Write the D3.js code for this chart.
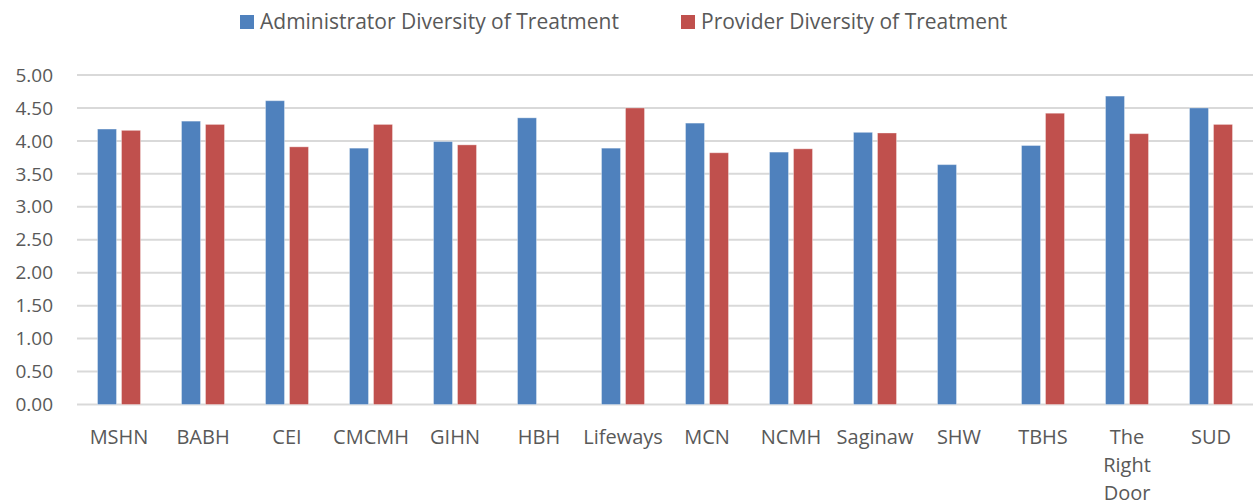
<!DOCTYPE html>
<html>
<head>
<meta charset="utf-8">
<script src="https://cdn.jsdelivr.net/npm/d3@7"></script>
<style>
	body { margin: 0; background: #fff; }
	text { font-family: "Open Sans", sans-serif; fill: #595959; }
</style>
</head>
<body>
<div id="chart"></div>
<script>

// Chart data
var categories = ["MSHN", "BABH", "CEI", "CMCMH", "GIHN", "HBH", "Lifeways", "MCN", "NCMH", "Saginaw", "SHW", "TBHS", "The Right Door", "SUD"];
var adminValues = [4.18, 4.30, 4.61, 3.89, 3.99, 4.35, 3.89, 4.27, 3.83, 4.13, 3.64, 3.93, 4.68, 4.50];
var providerValues = [4.16, 4.25, 3.91, 4.25, 3.94, null, 4.50, 3.82, 3.88, 4.12, null, 4.42, 4.11, 4.25];
var seriesNames = ["Administrator Diversity of Treatment", "Provider Diversity of Treatment"];
var yTicks = [0, 0.5, 1, 1.5, 2, 2.5, 3, 3.5, 4, 4.5, 5];

var colors = ["#4f81bd", "#c0504d"];

var margin = { top: 75, right: 1, bottom: 100, left: 77 };
var width = 1254 - margin.left - margin.right,
	height = 504 - margin.top - margin.bottom;

var svg = d3.select("#chart").append("svg")
		.attr("width", 1254)
		.attr("height", 504);

var g = svg.append("g")
		.attr("transform", "translate(" + margin.left + "," + margin.top + ")");

// Scales
var x = d3.scaleBand()
	.domain(categories)
	.range([0, width]);

var y = d3.scaleLinear()
	.domain([0, 5])
	.range([329.5, 0]);

var barW = 19, barGap = 5;

// Gridlines
g.selectAll(".grid")
	.data(yTicks)
	.enter().append("line")
	.attr("class", "grid")
	.attr("x1", 0)
	.attr("x2", width)
	.attr("y1", function(d) { return y(d); })
	.attr("y2", function(d) { return y(d); })
	.attr("stroke", "#d9d9d9")
	.attr("stroke-width", 2);

// Y axis labels
g.selectAll(".ylabel")
	.data(yTicks)
	.enter().append("text")
	.attr("class", "ylabel")
	.attr("x", -24)
	.attr("y", function(d) { return y(d); })
	.attr("dy", "0.35em")
	.attr("text-anchor", "end")
	.style("font-size", "19px")
	.text(function(d) { return d.toFixed(2); });

// Bars
var series = [adminValues, providerValues];
series.forEach(function(vals, si) {
	var data = categories.map(function(c, i) { return { cat: c, value: vals[i] }; })
		.filter(function(d) { return d.value != null; });

	g.selectAll(".bar-" + si)
		.data(data)
		.enter().append("rect")
		.attr("class", "bar-" + si)
		.attr("x", function(d) {
			var center = x(d.cat) + x.bandwidth() / 2;
			return si === 0 ? center - barGap / 2 - barW : center + barGap / 2;
		})
		.attr("y", function(d) { return y(d.value); })
		.attr("width", barW)
		.attr("height", function(d) { return y(0) - y(d.value); })
		.attr("fill", colors[si])
		.attr("stroke", "#ffffff")
		.attr("stroke-opacity", 0.35)
		.attr("stroke-width", 1);
});

// X labels (wrapped)
var xl = g.selectAll(".xlabel")
	.data(categories)
	.enter().append("text")
	.attr("class", "xlabel")
	.attr("text-anchor", "middle")
	.style("font-size", "20px")
	.attr("transform", function(d) {
		return "translate(" + (x(d) + x.bandwidth() / 2) + "," + (y(0) + 39) + ")";
	});

xl.each(function(d) {
	var lines = d === "The Right Door" ? ["The", "Right", "Door"] : [d];
	var t = d3.select(this);
	lines.forEach(function(l, i) {
		t.append("tspan")
			.attr("x", 0)
			.attr("y", i * 28)
			.text(l);
	});
});

// Legend
var legendX = [240, 681];
var legend = svg.selectAll(".legend")
	.data(seriesNames)
	.enter().append("g")
	.attr("class", "legend")
	.attr("transform", function(d, i) { return "translate(" + legendX[i] + ",15)"; });

legend.append("rect")
	.attr("width", 14)
	.attr("height", 14)
	.attr("fill", function(d, i) { return colors[i]; });

legend.append("text")
	.attr("x", 20)
	.attr("y", 14)
	.style("font-size", "21px")
	.text(function(d) { return d; });

</script>
</body>
</html>
